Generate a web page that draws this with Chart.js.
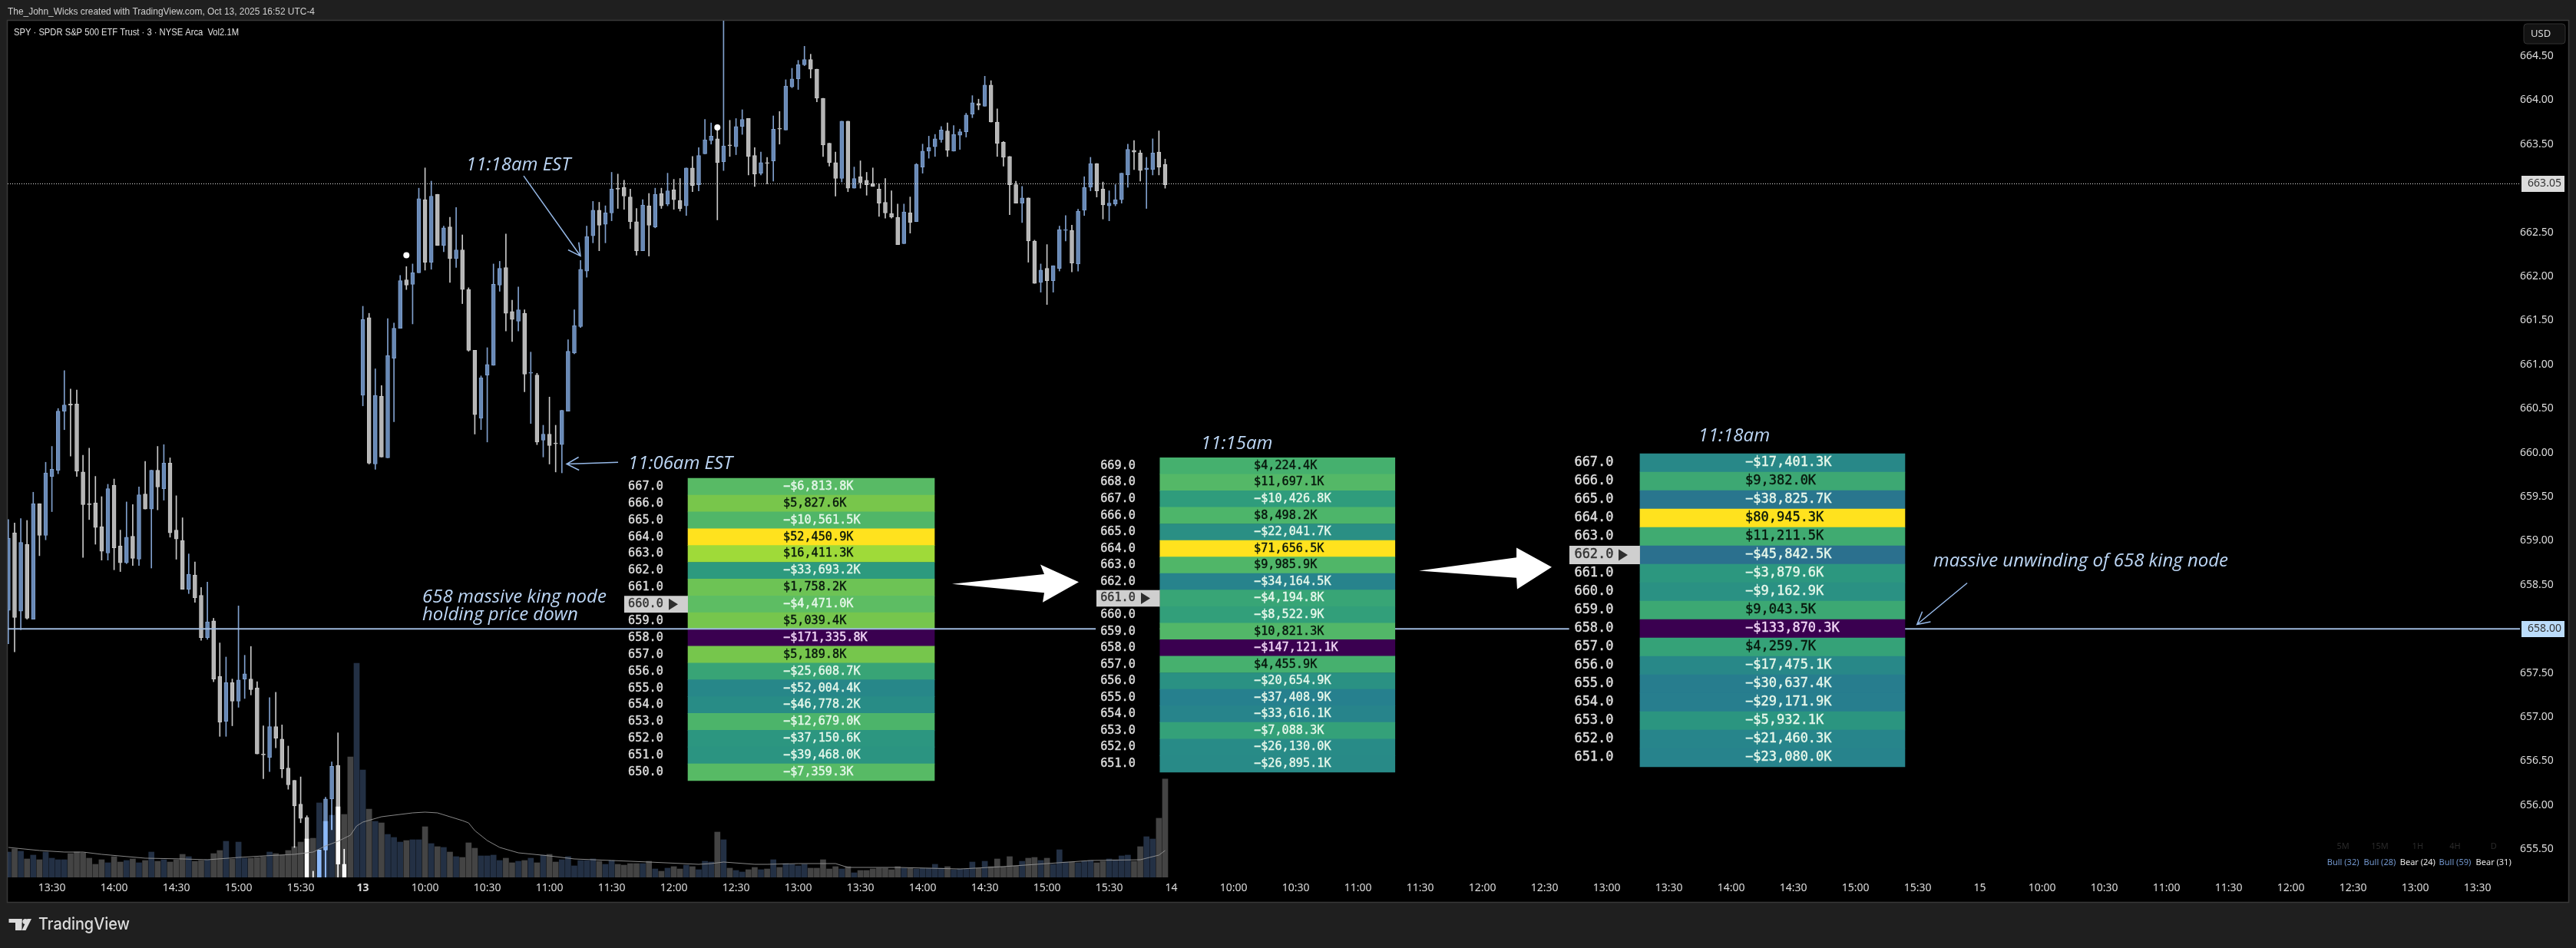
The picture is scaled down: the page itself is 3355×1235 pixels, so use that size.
<!DOCTYPE html>
<html>
<head>
<meta charset="utf-8">
<title>SPY 3m</title>
<script src="https://cdn.jsdelivr.net/npm/chart.js@4/dist/chart.umd.js"></script>
<style>
html, body { margin: 0; padding: 0; background: #1f1f1f; }
canvas { display: block; }
</style>
</head>
<body>
<canvas id="spy_chart" width="3355" height="1235"></canvas>
<script>
// bar number of the first candle, 0 is the 09:30 open on the 13th
var firstBar = -57;

var candleOpen = [
    658.21,659.09,658.20,658.96,658.11,659.42,659.06,659.73,659.80,660.47,660.55,660.55,659.78,659.42,659.43,659.16,658.86,659.63,658.94,658.75,
    659.05,658.79,659.53,659.36,659.80,659.59,659.88,659.12,659.00,658.45,658.61,658.38,657.90,658.09,657.46,656.95,657.39,657.18,657.43,657.43,
    657.33,656.58,656.54,656.89,656.75,656.42,656.28,656.01,655.86,655.05,654.95,655.49,656.07,656.45,655.33,654.50,654.00,
    660.65,661.53,659.87,660.64,659.94,661.07,661.41,661.96,661.91,662.04,662.87,662.16,662.93,662.35,662.56,662.20,662.30,661.85,661.16,660.39,
    660.88,660.99,661.90,662.10,661.60,661.49,661.58,660.90,660.88,660.14,660.21,660.11,660.09,660.47,661.13,661.43,662.06,662.46,662.75,662.59,
    662.72,663.00,663.01,662.90,662.62,662.29,662.80,662.56,662.94,662.82,662.98,662.86,662.80,663.23,663.04,663.39,663.54,663.56,663.30,663.49,
    663.47,663.70,663.79,663.37,663.17,663.29,663.31,663.68,663.66,664.15,664.24,664.40,664.46,664.35,664.02,663.51,663.29,663.11,663.76,663.00,
    663.13,663.09,663.05,662.99,662.84,662.71,662.67,662.37,662.72,662.62,663.24,663.42,663.47,663.55,663.65,663.42,663.60,663.64,663.84,663.96,
    663.93,664.17,663.75,663.52,663.36,663.04,662.83,662.89,662.40,661.93,662.09,661.95,662.09,662.52,662.52,662.14,662.75,663.01,663.28,662.99,
    662.80,662.82,662.87,663.15,663.43,663.40,663.21,663.21,663.41,663.27
];
var candleHigh = [
    659.24,659.20,659.25,659.23,659.55,659.42,659.89,660.07,660.50,660.93,660.72,660.71,659.97,660.05,659.73,659.50,659.64,659.70,659.12,659.44,
    659.41,659.61,659.90,659.80,660.07,660.09,659.94,659.51,659.26,658.85,658.76,658.47,658.53,658.12,657.84,657.68,657.43,658.26,657.70,657.80,
    657.40,656.90,657.22,657.28,656.91,656.67,656.28,656.32,655.88,655.25,655.49,656.09,656.49,656.82,655.50,654.80,654.30,
    661.66,661.58,660.95,660.76,661.52,661.47,662.01,662.11,662.14,663.00,663.23,663.08,662.93,662.57,662.67,662.78,662.47,661.87,661.16,660.87,
    661.19,662.14,662.17,662.48,661.73,661.88,661.62,661.14,660.90,660.31,660.63,660.31,660.48,661.28,661.62,662.18,662.57,662.85,662.84,662.80,
    663.18,663.16,663.09,662.99,662.77,662.87,662.94,663.00,663.00,663.17,663.10,663.11,663.23,663.36,663.46,663.78,663.74,663.72,664.95,663.77,
    663.79,663.89,663.79,663.46,663.41,663.35,663.82,663.87,664.23,664.36,664.45,664.61,664.52,664.35,664.02,663.51,663.41,663.76,663.76,663.24,
    663.31,663.18,663.23,663.05,663.11,662.97,662.82,662.82,662.90,663.28,663.50,663.59,663.61,663.70,663.74,663.71,663.67,663.85,664.05,664.01,
    664.27,664.22,663.90,663.53,663.36,663.08,663.02,662.89,662.41,662.14,662.36,662.12,662.57,662.69,662.58,662.76,663.13,663.35,663.28,663.07,
    662.97,663.04,663.17,663.50,663.54,663.43,663.35,663.56,663.65,663.33
];
var candleLow = [
    657.83,657.74,657.99,658.11,658.11,658.83,659.01,659.33,659.76,660.26,659.96,659.73,658.81,659.24,658.96,658.78,658.78,658.67,658.65,658.74,
    658.72,658.72,659.36,658.69,659.35,659.46,659.04,658.79,658.45,658.40,658.30,657.87,657.88,657.40,656.78,656.78,656.90,657.11,657.21,657.25,
    656.58,656.30,656.38,656.65,656.31,656.18,655.52,655.80,654.90,654.80,654.70,655.00,655.72,655.10,654.80,653.90,653.80,
    660.53,659.87,659.81,659.95,659.94,660.35,661.41,661.85,661.46,662.04,662.07,662.08,662.35,662.28,661.93,662.10,661.69,661.15,660.21,660.26,
    660.12,660.99,661.83,661.38,661.26,661.38,660.69,660.33,660.09,659.95,659.87,659.78,659.77,660.47,661.12,661.42,661.99,662.38,662.29,662.38,
    662.63,662.77,662.76,662.54,662.24,662.29,662.23,662.55,662.77,662.80,662.76,662.74,662.69,662.96,662.97,663.39,663.50,662.64,663.20,663.36,
    663.38,663.61,663.15,663.02,663.15,663.05,663.08,663.50,663.66,664.14,664.12,664.39,664.25,663.98,663.36,663.25,662.91,663.07,662.96,663.00,
    663.00,662.92,663.02,662.68,662.66,662.66,662.36,662.37,662.49,662.62,663.17,663.34,663.36,663.52,663.36,663.42,663.44,663.58,663.80,663.89,
    663.93,663.75,663.36,663.25,662.70,662.83,662.61,662.16,661.92,661.82,661.68,661.82,662.06,662.40,662.05,662.06,662.69,662.97,662.90,662.65,
    662.63,662.80,662.83,663.01,663.21,663.08,662.77,663.15,663.15,663.00
];
var candleClose = [
    659.03,658.13,658.98,658.12,659.42,659.06,659.77,659.81,660.47,660.54,660.54,659.79,659.41,659.41,659.15,658.88,659.59,658.92,658.75,659.04,
    658.80,659.52,659.36,659.80,659.61,659.88,659.09,659.02,658.45,658.62,658.35,657.90,658.08,657.43,656.94,657.39,657.18,657.42,657.49,657.31,
    656.58,656.57,656.89,656.76,656.41,656.23,655.99,655.85,655.05,654.90,655.49,656.07,656.44,655.33,654.90,654.00,654.20,
    661.51,659.88,660.65,659.95,661.10,661.41,661.95,661.90,662.04,662.88,662.16,662.91,662.35,662.55,662.20,662.30,661.85,661.16,660.43,660.85,
    661.00,661.91,662.09,661.58,661.51,661.62,660.89,660.91,660.12,660.21,660.08,660.10,660.48,661.15,661.44,662.08,662.45,662.75,662.58,662.72,
    662.99,662.99,662.91,662.62,662.29,662.81,662.58,662.93,662.80,662.97,662.87,662.77,663.23,663.03,663.37,663.55,663.59,663.29,663.48,663.48,
    663.70,663.78,663.36,663.16,663.29,663.28,663.67,663.67,664.16,664.24,664.40,664.46,664.35,664.02,663.49,663.29,663.11,663.76,663.00,663.11,
    663.06,663.04,663.02,662.83,662.72,662.67,662.36,662.73,662.61,663.27,663.42,663.46,663.56,663.66,663.43,663.61,663.64,663.83,663.97,663.94,
    664.17,663.75,663.51,663.35,663.04,662.83,662.89,662.40,661.92,662.07,661.95,662.12,662.53,662.53,662.15,662.74,663.01,663.28,662.97,662.81,
    662.83,662.87,663.17,663.44,663.41,663.20,663.23,663.40,663.24,663.04
];
// shares per bar, thousands
var volumeK = [
    541,607,558,394,476,377,541,410,377,377,508,541,525,410,279,377,312,443,328,361,
    394,312,361,541,344,377,328,377,492,443,344,361,377,508,574,771,394,754,410,410,
    426,443,541,508,476,574,656,754,820,836,1591,1197,1328,1509,1345,2575,4576,
    2296,1460,1197,1164,918,853,754,787,804,804,1082,722,656,640,541,443,426,738,623,459,
    459,476,361,410,312,344,361,410,312,476,492,328,377,443,246,361,361,394,344,279,
    361,279,262,295,295,295,344,180,131,197,230,180,262,230,164,344,328,968,804,197,
    148,115,164,213,164,180,377,213,295,279,246,279,197,197,377,180,230,180,230,98,
    148,148,180,197,197,164,230,197,197,180,197,197,279,197,230,164,180,180,328,197,
    344,230,394,230,443,246,344,410,426,361,410,279,590,328,328,312,344,361,312,344,
    394,377,459,476,344,656,869,820,1263,2100
];
// volume average line, read at the bars where it bends
var vmaBars = [-57,-52,-48,-45,-42,-35,-29,-25,-20,-16,-11,-8,-6,-4,-2,-1,0,3,8,10,12,16,17,18,20,22,25,30,34,40,46,54,56,58,63,65,70,76,78,86,96,103,110,117,125,128,129];
var vmaValues = [640,574,541,541,492,410,394,377,426,459,492,541,672,771,902,1099,1181,1296,1378,1394,1378,1214,1164,1000,787,640,525,459,394,361,328,279,295,328,279,279,295,295,213,213,180,230,295,361,377,476,574];

var markerBars = [7, 57];
var markerPrices = [662.24, 663.69];

var priceTicks = [655.5,656,656.5,657,657.5,658.5,659,659.5,660,660.5,661,661.5,662,662.5,663.5,664,664.5];
var timeBars = [-50,-40,-30,-20,-10,0,10,20,30,40,50,60,70,80,90,100,110,120,130,140,150,160,170,180,190,200,210,220,230,240,250,260,270,280,290,300,310,320,330,340];
var timeLabels = ["13:30","14:00","14:30","15:00","15:30","13","10:00","10:30","11:00","11:30","12:00","12:30","13:00","13:30","14:00","14:30","15:00","15:30","14","10:00","10:30","11:00","11:30","12:00","12:30","13:00","13:30","14:00","14:30","15:00","15:30","15","10:00","10:30","11:00","11:30","12:00","12:30","13:00","13:30"];

var lastPrice = 663.05;
var kingNode = 658;

var strikes1 = [667,666,665,664,663,662,661,660,659,658,657,656,655,654,653,652,651,650];
var values1 = [-6813.8,5827.6,-10561.5,52450.9,16411.3,-33693.2,1758.2,-4471.0,5039.4,-171335.8,5189.8,-25608.7,-52004.4,-46778.2,-12679.0,-37150.6,-39468.0,-7359.3];
var strikes2 = [669,668,667,666,665,664,663,662,661,660,659,658,657,656,655,654,653,652,651];
var values2 = [4224.4,11697.1,-10426.8,8498.2,-22041.7,71656.5,9985.9,-34164.5,-4194.8,-8522.9,10821.3,-147121.1,4455.9,-20654.9,-37408.9,-33616.1,-7088.3,-26130.0,-26895.1];
var strikes3 = [667,666,665,664,663,662,661,660,659,658,657,656,655,654,653,652,651];
var values3 = [-17401.3,9382.0,-38825.7,80945.3,11211.5,-45842.5,-3879.6,-9162.9,9043.5,-133870.3,4259.7,-17475.1,-30637.4,-29171.9,-5932.1,-21460.3,-23080.0];

var BLUE = "rgb(104,137,182)";
var BLUE_EDGE = "rgb(128,160,205)";
var GREY = "rgb(182,182,182)";
var GREY_EDGE = "rgb(200,200,200)";
var VOL_BLUE = "rgb(35,48,68)";
var VOL_GREY = "rgb(68,68,68)";
var LINE_BLUE = "rgb(158,184,220)";
var NOTE_BLUE = "rgb(188,214,245)";
var ARROW_BLUE = "rgb(150,185,232)";

// dollar heat scale, t is 0 at the table's most negative row and 1 at its largest
var heatStops = [
    [0, 58, 0, 80], [0.25, 59, 82, 139], [0.40, 44, 110, 142], [0.50, 38, 128, 142], [0.55, 40, 138, 135],
    [0.62, 45, 155, 125], [0.70, 72, 178, 108], [0.75, 95, 190, 98], [0.80, 125, 200, 70], [0.84, 160, 218, 57], [1, 255, 226, 30]
];

function heatColor(value, values) {
    var low = Math.min.apply(null, values);
    var high = Math.max.apply(null, values);
    var t = (value - low) / (high - low);
    for (var i = 1; i < heatStops.length; i++) {
        if (t <= heatStops[i][0]) {
            var a = heatStops[i - 1], b = heatStops[i];
            var f = (t - a[0]) / (b[0] - a[0]);
            return "rgb(" + Math.round(a[1] + (b[1] - a[1]) * f) + "," + Math.round(a[2] + (b[2] - a[2]) * f) + "," + Math.round(a[3] + (b[3] - a[3]) * f) + ")";
        }
    }
    return "rgb(255,226,30)";
}

function money(value) {
    var s = "$" + Math.abs(value).toLocaleString("en-US", { minimumFractionDigits: 1, maximumFractionDigits: 1 }) + "K";
    return value < 0 ? "\u2212" + s : s;
}

function barAt(i) { return firstBar + i; }

var wickData = [], bodyData = [], volumeData = [], wickColors = [], bodyColors = [], edgeColors = [], volumeColors = [];
for (var i = 0; i < candleOpen.length; i++) {
    var up = candleClose[i] >= candleOpen[i];
    wickData.push({ x: barAt(i), y: [candleLow[i], candleHigh[i]] });
    bodyData.push({ x: barAt(i), y: [candleOpen[i], candleClose[i]] });
    volumeData.push({ x: barAt(i), y: volumeK[i] });
    wickColors.push(up ? BLUE_EDGE : GREY_EDGE);
    bodyColors.push(up ? BLUE : GREY);
    edgeColors.push(up ? BLUE_EDGE : GREY_EDGE);
    volumeColors.push(up ? VOL_BLUE : VOL_GREY);
}

var vmaData = vmaBars.map(function (b, k) { return { x: b, y: vmaValues[k] }; });
var markerData = markerBars.map(function (b, k) { return { x: b, y: markerPrices[k] }; });

var X_MIN = -57.11, X_MAX = 346.84;

function tableDataset(strikes, values, center, width, axis, order) {
    return {
        type: "bar",
        label: "Table " + axis,
        order: order,
        xAxisID: "x",
        yAxisID: axis,
        grouped: false,
        barThickness: width,
        data: strikes.map(function (s) { return { x: center, y: [s - 0.5, s + 0.5] }; }),
        backgroundColor: values.map(function (v) { return heatColor(v, values); }),
        borderWidth: 0
    };
}

// black strip behind the strike column of a table
function stripDataset(strikes, center, width, axis, order) {
    return {
        type: "bar",
        label: "Strip " + axis,
        order: order,
        yAxisID: axis,
        grouped: false,
        barThickness: width,
        data: strikes.map(function (s) { return { x: center, y: [s - 0.5, s + 0.5] }; }),
        backgroundColor: "#000",
        borderWidth: 0
    };
}

var tables = [
    { axis: "t1", strikes: strikes1, values: values1, pointer: 660, labelBar: 45.48, textBar: 67.58, boxLeft: 42.02, boxRight: 52.27, size: 15.2, mark: 30 },
    { axis: "t2", strikes: strikes2, values: values2, pointer: 661, labelBar: 121.41, textBar: 143.26, boxLeft: 117.95, boxRight: 128.15, size: 15.2, mark: 30 },
    { axis: "t3", strikes: strikes3, values: values3, pointer: 662, labelBar: 197.95, textBar: 222.27, boxLeft: 194.0, boxRight: 205.35, size: 17, mark: 32 }
];

var notes = [
    { text: "11:18am EST", bar: 16.6, price: 663.20 },
    { text: "11:06am EST", bar: 42.64, price: 659.81 },
    { text: "658 massive king node", bar: 9.56, price: 658.30 },
    { text: "holding price down", bar: 9.56, price: 658.10 },
    { text: "11:15am", bar: 134.74, price: 660.04 },
    { text: "11:18am", bar: 214.7, price: 660.13 },
    { text: "massive unwinding of 658 king node", bar: 252.5, price: 658.71 }
];

var thinArrows = [
    { fromBar: 25.85, fromPrice: 663.14, toBar: 34.99, toPrice: 662.23 },
    { fromBar: 41.04, fromPrice: 659.89, toBar: 32.77, toPrice: 659.87 },
    { fromBar: 257.96, fromPrice: 658.52, toBar: 249.9, toPrice: 658.05 }
];

var bigArrows = [
    [[94.74,658.51],[109.56,658.62],[108.94,658.73],[115.11,658.53],[109.31,658.30],[109.56,658.41]],
    [[169.81,658.66],[185.49,658.81],[185.49,658.92],[191.16,658.70],[185.6,658.45],[185.49,658.58]]
];

var tfNames = ["5M", "15M", "1H", "4H", "D"];
var tfStates = ["Bull (32)", "Bull (28)", "Bear (24)", "Bull (59)", "Bear (31)"];
var tfBars = [318.4, 324.3, 330.4, 336.4, 342.6];

var framePlugin = {
    id: "frame",
    beforeDraw: function (chart) {
        var c = chart.ctx, a = chart.chartArea;
        var right = chart.scales.y.right, bottom = chart.scales.x.bottom;
        c.save();
        c.fillStyle = "#1f1f1f";
        c.fillRect(0, 0, chart.width, chart.height);
        c.fillStyle = "#000";
        c.fillRect(a.left, a.top, right - a.left, bottom - a.top);
        c.strokeStyle = "#383838";
        c.lineWidth = 1.5;
        c.strokeRect(a.left - 0.5, a.top - 0.5, right - a.left + 1, bottom - a.top + 1);
        c.restore();
    },
    // volume adds light to whatever candle sits under it
    beforeDatasetDraw: function (chart, args) {
        if (chart.data.datasets[args.index].label === "Volume") {
            chart.ctx.globalCompositeOperation = "lighter";
        }
    },
    afterDatasetDraw: function (chart) {
        chart.ctx.globalCompositeOperation = "source-over";
    }
};

function drawHead(c, fromX, fromY, toX, toY) {
    var angle = Math.atan2(toY - fromY, toX - fromX);
    c.beginPath();
    c.moveTo(fromX, fromY);
    c.lineTo(toX, toY);
    c.moveTo(toX + 18 * Math.cos(angle + 2.65), toY + 18 * Math.sin(angle + 2.65));
    c.lineTo(toX, toY);
    c.lineTo(toX + 18 * Math.cos(angle - 2.65), toY + 18 * Math.sin(angle - 2.65));
    c.stroke();
}

// mono table text, thickened a little
function tableText(c, text, px, py) {
    c.fillText(text, px, py);
    c.strokeStyle = c.fillStyle;
    c.lineWidth = 0.4;
    c.strokeText(text, px, py);
}

var overlayPlugin = {
    id: "overlay",
    afterDatasetsDraw: function (chart) {
        var c = chart.ctx;
        var x = chart.scales.x, y = chart.scales.y;
        c.save();

        // strike column and dollar text of each table
        tables.forEach(function (t) {
            var axis = chart.scales[t.axis];
            var font = t.size + "px 'DejaVu Sans Mono'";
            c.textBaseline = "middle";
            t.strikes.forEach(function (s, k) {
                var py = axis.getPixelForValue(s);
                var labelX = x.getPixelForValue(t.labelBar);
                if (s === t.pointer) {
                    var left = x.getPixelForValue(t.boxLeft), right = x.getPixelForValue(t.boxRight);
                    var rowH = Math.abs(axis.getPixelForValue(s + 0.5) - axis.getPixelForValue(s - 0.5));
                    c.fillStyle = "#cfcfcf";
                    c.fillRect(left, py - rowH / 2, right - left, rowH);
                    c.fillStyle = "#2e2e2e";
                    c.beginPath();
                    c.moveTo(labelX + t.mark, py - 7.5);
                    c.lineTo(labelX + t.mark + 12, py);
                    c.lineTo(labelX + t.mark, py + 7.5);
                    c.closePath();
                    c.fill();
                }
                c.font = font;
                c.textAlign = "center";
                c.fillStyle = s === t.pointer ? "#333333" : "#dedede";
                tableText(c, s.toFixed(1), labelX, py);
                c.textAlign = "left";
                var v = t.values[k];
                c.fillStyle = v < 0 ? (s === kingNode ? "#f0d4f5" : "#e6f7ea") : "#07160c";
                tableText(c, money(v), x.getPixelForValue(t.textBar), py);
            });
        });

        c.strokeStyle = ARROW_BLUE;
        c.lineWidth = 1.5;
        thinArrows.forEach(function (n) {
            drawHead(c, x.getPixelForValue(n.fromBar), y.getPixelForValue(n.fromPrice), x.getPixelForValue(n.toBar), y.getPixelForValue(n.toPrice));
        });

        c.fillStyle = "#fff";
        bigArrows.forEach(function (pts) {
            c.beginPath();
            pts.forEach(function (p, k) {
                var px = x.getPixelForValue(p[0]), py = y.getPixelForValue(p[1]);
                if (k === 0) c.moveTo(px, py); else c.lineTo(px, py);
            });
            c.closePath();
            c.fill();
        });

        c.font = "italic 24px 'Open Sans'";
        c.fillStyle = NOTE_BLUE;
        c.textAlign = "left";
        c.textBaseline = "alphabetic";
        notes.forEach(function (n) {
            c.fillText(n.text, x.getPixelForValue(n.bar), y.getPixelForValue(n.price));
        });

        // timeframe trend table, bottom right
        c.textAlign = "center";
        c.textBaseline = "middle";
        c.font = "11px 'Noto Sans'";
        tfNames.forEach(function (name, k) {
            var px = x.getPixelForValue(tfBars[k]);
            c.fillStyle = "#2a2a2a";
            c.fillText(name, px, 1103);
            c.fillStyle = tfStates[k].indexOf("Bull") === 0 ? "#7296cc" : "#e8e8e8";
            c.fillText(tfStates[k], px, 1124);
        });

        c.restore();
    },
    afterDraw: function (chart) {
        var c = chart.ctx;
        var y = chart.scales.y;
        var boxLeft = 3284, boxW = 56, boxH = 21;
        c.save();
        c.textAlign = "center";
        c.textBaseline = "middle";
        c.font = "14px 'Noto Sans'";

        // price flags on the axis
        var flags = [[lastPrice, "#dcdcdc"], [kingNode, "#bbdcfa"]];
        flags.forEach(function (f) {
            var py = y.getPixelForValue(f[0]);
            c.fillStyle = f[1];
            c.fillRect(boxLeft, Math.round(py - boxH / 2), boxW, boxH);
            c.fillStyle = "#333";
            c.fillText(f[0].toFixed(2), boxLeft + boxW / 2 + 2, py);
        });

        // currency badge
        c.beginPath();
        c.roundRect(3287, 31, 54, 26, 4);
        c.fillStyle = "#131313";
        c.fill();
        c.strokeStyle = "#333";
        c.lineWidth = 1;
        c.stroke();
        c.fillStyle = "#dcdcdc";
        c.textAlign = "left";
        c.font = "13px 'Noto Sans'";
        c.fillText("USD", 3296, 44);

        // snapshot header and series legend
        c.font = "13px 'Liberation Sans'";
        c.fillStyle = "#cfcfcf";
        c.fillText("The_John_Wicks created with TradingView.com, Oct 13, 2025 16:52 UTC-4", 10, 15, 400);
        c.fillStyle = "#e0e0e0";
        c.fillText("SPY \u00B7 SPDR S&P 500 ETF Trust \u00B7 3 \u00B7 NYSE Arca  Vol2.1M", 18, 42, 293);

        // brand mark in the bottom bar
        c.fillStyle = "#dcdcdc";
        c.fillRect(11.5, 1197, 17, 5);
        c.fillRect(20, 1197, 8.5, 15);
        c.beginPath();
        c.arc(33, 1200.5, 3.6, 0, Math.PI * 2);
        c.fill();
        c.beginPath();
        c.moveTo(33.5, 1212);
        c.lineTo(41, 1197);
        c.lineTo(35.5, 1197);
        c.lineTo(28.5, 1212);
        c.closePath();
        c.fill();
        c.font = "500 21px 'Inter'";
        c.fillText("TradingView", 50, 1205, 119);
        c.restore();
    }
};

new Chart(document.getElementById("spy_chart").getContext("2d"), {
    plugins: [framePlugin, overlayPlugin],
    data: {
        datasets: [
            { type: "bar", label: "Wicks", order: 60, yAxisID: "y", grouped: false, barThickness: 1, data: wickData, backgroundColor: wickColors, borderWidth: 0 },
            { type: "bar", label: "Bodies", order: 55, yAxisID: "y", grouped: false, barThickness: 5, data: bodyData, backgroundColor: bodyColors, borderColor: edgeColors, borderWidth: 1, borderSkipped: false },
            { type: "bar", label: "Volume", order: 50, yAxisID: "vol", grouped: false, barThickness: 7, data: volumeData, backgroundColor: volumeColors, borderWidth: 0 },
            { type: "line", label: "Volume average", order: 45, yAxisID: "vol", data: vmaData, borderColor: "rgba(150,150,150,0.9)", borderWidth: 1, pointRadius: 0, tension: 0 },
            { type: "line", label: "Last price", order: 40, yAxisID: "y", data: [{ x: X_MIN, y: lastPrice }, { x: X_MAX, y: lastPrice }], borderColor: "rgb(235,235,235)", borderWidth: 1, borderDash: [1, 2], pointRadius: 0 },
            tableDataset(strikes1, values1, 72.09, 321, "t1", 30),
            { type: "line", label: "King node", order: 20, yAxisID: "y", data: [{ x: X_MIN, y: kingNode }, { x: X_MAX, y: kingNode }], borderColor: LINE_BLUE, borderWidth: 2, pointRadius: 0 },
            stripDataset(strikes2, 123.0, 83, "t2", 12),
            tableDataset(strikes2, values2, 147.06, 306, "t2", 10),
            stripDataset(strikes3, 199.68, 92, "t3", 12),
            tableDataset(strikes3, values3, 226.65, 345, "t3", 10),
            { type: "line", label: "Markers", order: 5, yAxisID: "y", data: markerData, showLine: false, pointRadius: 4, pointBackgroundColor: "#fff", pointBorderWidth: 0 }
        ]
    },
    options: {
        responsive: false,
        animation: false,
        layout: { padding: { left: 10, top: 27, right: 10, bottom: 60 } },
        plugins: { legend: { display: false }, tooltip: { enabled: false } },
        scales: {
            x: {
                type: "linear",
                offset: false,
                min: X_MIN,
                max: X_MAX,
                grid: { display: false, drawTicks: false, offset: false },
                border: { display: false },
                afterBuildTicks: function (axis) {
                    axis.ticks = timeBars.map(function (b) { return { value: b }; });
                },
                afterFit: function (axis) { axis.height = 32; },
                ticks: {
                    autoSkip: false,
                    maxRotation: 0,
                    padding: 6,
                    color: "#dcdcdc",
                    font: function (ctx) {
                        return { family: "'Noto Sans'", size: 14, weight: ctx.tick && ctx.tick.value === 0 ? "bold" : "normal" };
                    },
                    callback: function (value) { return timeLabels[timeBars.indexOf(value)]; }
                }
            },
            y: {
                type: "linear",
                position: "right",
                min: 655.18,
                max: 664.90,
                grid: { display: false, drawTicks: false },
                border: { display: false },
                afterBuildTicks: function (axis) {
                    axis.ticks = priceTicks.map(function (p) { return { value: p }; });
                },
                afterFit: function (axis) { axis.width = 63; },
                ticks: {
                    crossAlign: "center",
                    padding: 0,
                    color: "#dcdcdc",
                    font: { family: "'Noto Sans'", size: 14 },
                    callback: function (value) { return value.toFixed(2); }
                }
            },
            vol: { type: "linear", display: false, min: 0, max: 18302 },
            t1: { type: "linear", display: false, min: 643.74, max: 694.74 },
            t2: { type: "linear", display: false, min: 644.14, max: 695.90 },
            t3: { type: "linear", display: false, min: 644.5, max: 691 }
        }
    }
});
</script>
</body>
</html>
